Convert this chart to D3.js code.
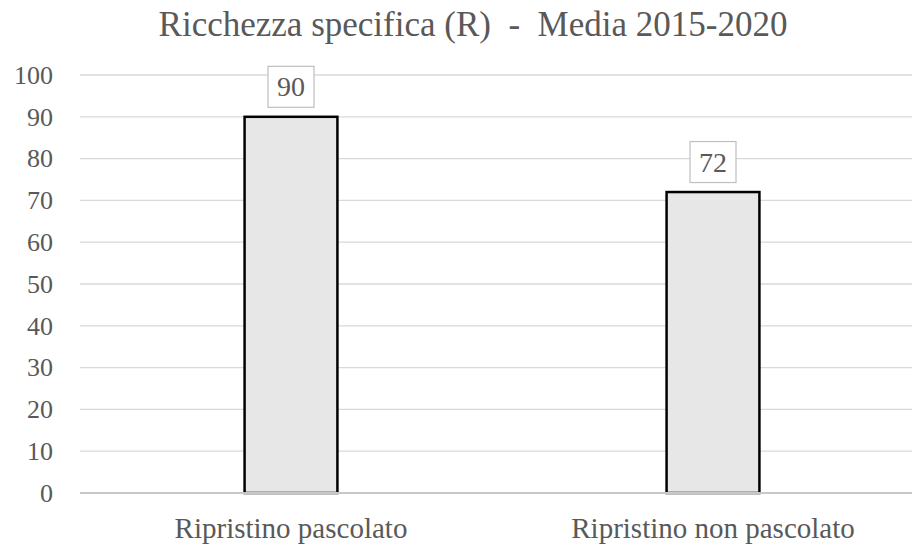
<!DOCTYPE html>
<html>
<head>
<meta charset="utf-8">
<script src="https://cdn.jsdelivr.net/npm/d3@7"></script>
<style>
  body { margin: 0; background: #fff; }
  svg { display: block; }
  svg text { font-family: "Liberation Serif", "Times New Roman", serif; fill: #595959; white-space: pre; }
  .axis path, .axis line { stroke: none; }
</style>
</head>
<body>
<div id="chart"></div>
<script>
// Data
const categories = ['Ripristino pascolato', 'Ripristino non pascolato'];
const values     = [90, 72];
const yTicks     = [0, 10, 20, 30, 40, 50, 60, 70, 80, 90, 100];
const title      = 'Ricchezza specifica (R)  -  Media 2015-2020';

const W = 915, H = 546;
const margin = { top: 75, bottom: 53, left: 80 };
const bandW  = 844;               // category band span (last band runs past the edge)
const gridW  = W - margin.left - 3;
const plotH  = H - margin.top - margin.bottom;

const svg = d3.select('#chart')
  .append('svg')
  .attr('width', W)
  .attr('height', H);

svg.append('text')
  .attr('x', 473)
  .attr('y', 36)
  .attr('text-anchor', 'middle')
  .style('font-size', '35px')
  .text(title);

const g = svg.append('g')
  .attr('transform', `translate(${margin.left},${margin.top})`);

const x = d3.scaleBand()
  .domain(categories)
  .range([0, bandW]);

const y = d3.scaleLinear()
  .domain([0, 100])
  .range([plotH, 0]);

const barW = x.bandwidth() * 0.22;

// Gridlines
g.selectAll('.grid')
  .data(yTicks)
  .enter()
  .append('line')
  .attr('x1', 0)
  .attr('x2', gridW)
  .attr('y1', d => y(d))
  .attr('y2', d => y(d))
  .attr('stroke', '#d9d9d9')
  .attr('stroke-width', 1.3);

// Bars
g.selectAll('.bar')
  .data(values)
  .enter()
  .append('rect')
  .attr('x', (d, i) => x(categories[i]) + x.bandwidth() / 2 - barW / 2)
  .attr('y', d => y(d))
  .attr('width', barW)
  .attr('height', d => y(0) - y(d))
  .attr('fill', '#e7e7e7')
  .attr('stroke', '#000')
  .attr('stroke-width', 2.5);

// Axis line over the bar bottoms
g.append('line')
  .attr('x1', 0)
  .attr('x2', gridW)
  .attr('y1', y(0))
  .attr('y2', y(0))
  .attr('stroke', '#c8c8c8')
  .attr('stroke-width', 2);

// Data labels with boxes
const labels = g.selectAll('.lbl')
  .data(values)
  .enter()
  .append('g')
  .attr('transform', (d, i) => `translate(${x(categories[i]) + x.bandwidth() / 2},${y(d) - 30})`);

labels.append('rect')
  .attr('x', -23)
  .attr('y', -20.5)
  .attr('width', 46)
  .attr('height', 41)
  .attr('fill', '#fff')
  .attr('stroke', '#bfbfbf')
  .attr('stroke-width', 1.2);

labels.append('text')
  .attr('text-anchor', 'middle')
  .attr('dy', '0.34em')
  .style('font-size', '28px')
  .text(d => d);

// Axes
g.append('g')
  .attr('class', 'axis')
  .call(d3.axisLeft(y).tickValues(yTicks).tickSize(0).tickPadding(27))
  .selectAll('text')
  .style('font-size', '26px');

g.append('g')
  .attr('class', 'axis')
  .attr('transform', `translate(0,${plotH})`)
  .call(d3.axisBottom(x).tickSize(0).tickPadding(0))
  .selectAll('text')
  .attr('dy', null)
  .attr('y', 45)
  .style('font-size', '29px');
</script>
</body>
</html>
